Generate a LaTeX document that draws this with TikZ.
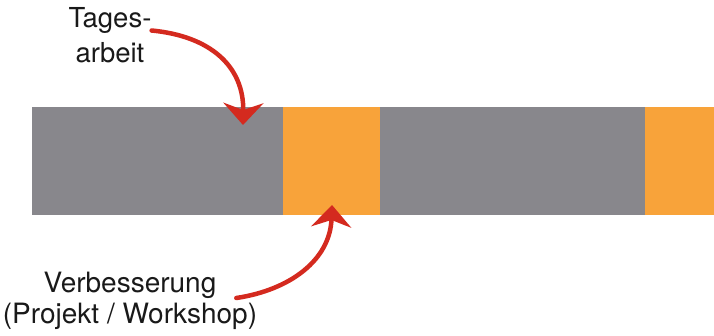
\documentclass[tikz,border=0pt]{standalone}
\usepackage{fontspec}
\setmainfont{TeX Gyre Heros}
\usepackage{xcolor}
\usetikzlibrary{arrows.meta}

\definecolor{barGray}{HTML}{88878C}
\definecolor{barOrange}{HTML}{F8A33A}
\definecolor{brushRed}{HTML}{D42A1F}

\tikzset{
  bar/.style={anchor=north west, inner sep=0pt, minimum height=108pt},
  caption/.style={inner sep=0pt, align=center, text=black!90},
  brush/.style={line width=4.5pt, brushRed, line cap=round,
    -{Stealth[length=22pt, width=40pt, inset=7pt]}}
}

\begin{document}
\begin{tikzpicture}[x=1pt, y=-1pt]
\useasboundingbox (0,0) rectangle (714,335);

        % Bar: work days and improvement blocks
        \node[bar, fill=barGray,   minimum width=251pt] (work1)    at (32,107)  {};
        \node[bar, fill=barOrange, minimum width=97pt]  (improve1) at (283,107) {};
        \node[bar, fill=barGray,   minimum width=265pt] (work2)    at (380,107) {};
        \node[bar, fill=barOrange, minimum width=69pt]  (improve2) at (645,107) {};

        % Labels
        \node[caption, font=\fontsize{27.5}{35}\selectfont] (daily) at (110,35.5) {Tages-\\arbeit};
        \node[caption, font=\fontsize{28}{31}\selectfont] (better) at (130,301) {Verbesserung\\(Projekt / Workshop)};

        % Arrow tips
        \coordinate (tipWork) at (243,125);
        \coordinate (tipImprove) at (332,205);

        % Red brush arrows
        \draw[brush] ([yshift=5pt]daily.east) .. controls (210,36) and (244,66) .. (tipWork);
        \draw[brush] ([xshift=-21pt,yshift=3pt]better.east) .. controls (290,290) and (330,260) .. (tipImprove);
    \end{tikzpicture}
\end{document}
